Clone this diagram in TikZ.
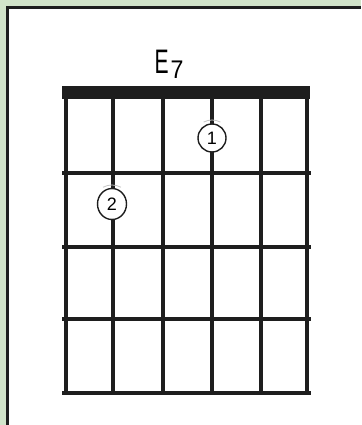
\documentclass[tikz,border=0pt]{standalone}
\usepackage{fontspec}
\usetikzlibrary{shapes.geometric}
\setsansfont{Liberation Sans}
\definecolor{framegreen}{HTML}{D2E4CA}
\definecolor{ink}{HTML}{1E1E1E}
\tikzset{
  fret/.style={ink, line width=4.5pt, line cap=rect},
  strg/.style={ink, line width=4pt},
  finger/.style={ellipse, draw=ink, line width=1.4pt, fill=white, minimum width=28pt, minimum height=28pt, inner sep=0pt, font=\sffamily\fontsize{18}{18}\selectfont},
  faint/.style={gray!45, line width=0.8pt}
}
\begin{document}
\begin{tikzpicture}[x=1pt,y=-1pt]
\useasboundingbox (0,0) rectangle (361,425);
\fill[framegreen] (0,0) rectangle (361,425);
\fill[white] (8,8) rectangle (361,425);
\draw[ink, line width=2.5pt] (7.5,425) -- (7.5,7.5) -- (361,7.5);
% title
\node[inner sep=0pt] (title) at (169,64) {\sffamily\fontsize{34}{34}\selectfont\scalebox{0.62}[1]{E\hspace{3pt}\raisebox{-5pt}{\scalebox{1.1}[0.75]{7}}}};
% strings
\foreach \x in {66,113,163,212,261,307}
  \draw[strg] (\x,95) -- (\x,393);
% frets
\foreach \y in {173,247,319,393}
  \draw[fret] (64,\y) -- (309,\y);
% nut
\fill[ink] (62,86) rectangle (310,99.5);
% fingers
\draw[faint] (212,138) ++(242:18) arc (242:298:18);
\draw[faint] (112,204) ++(242:19) arc (242:298:19);
\node[finger] (f1) at (212,138) {1};
\node[finger, minimum width=29pt, minimum height=31pt] (f2) at (112,204) {2};
\end{tikzpicture}
\end{document}
